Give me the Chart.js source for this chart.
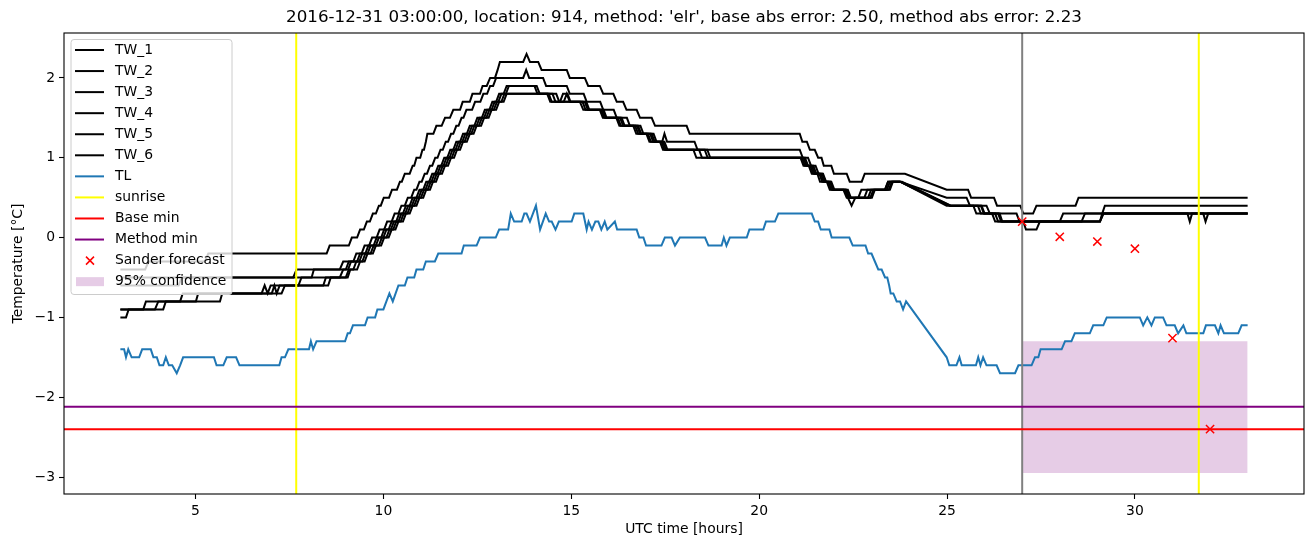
<!DOCTYPE html>
<html>
<head>
<meta charset="utf-8">
<script src="https://cdn.jsdelivr.net/npm/chart.js@4.4.1/dist/chart.umd.min.js"></script>
<style>
  html, body { margin: 0; padding: 0; background: #fff; }
  #wrap { width: 1313px; height: 547px; }
</style>
</head>
<body>
<div id="wrap"><canvas id="chart"></canvas></div>
<script>
// ---- data: [hour, temperature] vertices ----
const tw1 = [[3.0,-0.4],[3.66,-0.4],[3.75,-0.3],[5.25,-0.3],[5.34,-0.2],[8.49,-0.2],[8.57,-0.1],[9.08,-0.1],[9.16,0],[9.30,0],[9.38,0.1],[9.48,0.1],[9.56,0.2],[9.64,0.2],[9.72,0.3],[9.80,0.3],[9.88,0.4],[9.93,0.4],[10.01,0.5],[10.15,0.5],[10.23,0.6],[10.36,0.6],[10.44,0.7],[10.49,0.7],[10.57,0.8],[10.70,0.8],[10.78,0.9],[10.82,0.9],[10.88,1.0],[10.98,1.0],[11.04,1.1],[11.08,1.1],[11.13,1.2],[11.17,1.3],[11.33,1.3],[11.41,1.4],[11.55,1.4],[11.64,1.5],[11.77,1.5],[11.86,1.6],[12.04,1.6],[12.11,1.7],[12.30,1.7],[12.37,1.8],[12.57,1.8],[12.64,1.9],[12.75,1.9],[12.84,2.0],[12.97,2.0],[13.04,2.1],[13.10,2.2],[13.72,2.2],[13.81,2.3],[13.90,2.2],[14.12,2.2],[14.21,2.1],[14.88,2.1],[14.96,2.0],[15.36,2.0],[15.45,1.9],[15.76,1.9],[15.85,1.8],[16.12,1.8],[16.21,1.7],[16.38,1.7],[16.47,1.6],[16.74,1.6],[16.83,1.5],[17.14,1.5],[17.23,1.4],[18.07,1.4],[18.15,1.3],[21.08,1.3],[21.15,1.2],[21.27,1.2],[21.35,1.1],[21.48,1.1],[21.57,1.0],[21.66,1.0],[21.72,0.9],[21.92,0.9],[21.99,0.8],[22.33,0.8],[22.41,0.7],[22.73,0.7],[22.81,0.8],[23.88,0.8],[24.99,0.6],[25.56,0.6],[25.64,0.5],[26.25,0.5],[26.33,0.4],[26.95,0.4],[27.03,0.3],[27.29,0.3],[27.38,0.4],[28.42,0.4],[28.50,0.5],[33.0,0.5]];
const tw2 = [[3.0,-0.5],[7.60,-0.5],[7.69,-0.4],[8.84,-0.4],[8.93,-0.3],[9.20,-0.3],[9.28,-0.2],[9.42,-0.2],[9.50,-0.1],[9.62,-0.1],[9.70,0],[9.82,0],[9.90,0.1],[10.02,0.1],[10.10,0.2],[10.22,0.2],[10.30,0.3],[10.40,0.3],[10.48,0.4],[10.57,0.4],[10.65,0.5],[10.74,0.5],[10.82,0.6],[10.88,0.6],[10.96,0.7],[11.02,0.7],[11.10,0.8],[11.16,0.8],[11.24,0.9],[11.30,0.9],[11.38,1.0],[11.44,1.0],[11.52,1.1],[11.58,1.1],[11.66,1.2],[11.72,1.2],[11.80,1.3],[11.86,1.3],[11.94,1.4],[12.00,1.4],[12.08,1.5],[12.13,1.5],[12.21,1.6],[12.36,1.6],[12.44,1.7],[12.58,1.7],[12.66,1.8],[12.76,1.8],[12.84,1.9],[12.92,1.9],[13.00,2.0],[13.72,2.0],[13.80,2.1],[13.88,2.0],[14.25,2.0],[14.33,1.9],[14.88,1.9],[14.96,1.8],[15.33,1.8],[15.41,1.7],[15.77,1.7],[15.85,1.6],[16.13,1.6],[16.21,1.5],[16.48,1.5],[16.56,1.4],[16.84,1.4],[16.92,1.3],[17.19,1.3],[17.27,1.2],[17.42,1.2],[17.48,1.3],[17.55,1.2],[18.28,1.2],[18.36,1.1],[21.08,1.1],[21.16,1.0],[21.30,1.0],[21.38,0.9],[21.50,0.9],[21.58,0.8],[21.70,0.8],[21.78,0.7],[21.90,0.7],[21.98,0.6],[22.30,0.6],[22.37,0.5],[22.80,0.5],[22.88,0.6],[23.35,0.6],[23.43,0.7],[23.75,0.7],[24.99,0.4],[25.82,0.4],[25.90,0.3],[26.40,0.3],[26.47,0.2],[29.07,0.2],[29.13,0.3],[29.20,0.4],[33.0,0.4]];
const tw3 = [[3.0,-0.6],[4.55,-0.6],[4.63,-0.5],[8.09,-0.5],[8.15,-0.4],[9.0,-0.4],[9.08,-0.3],[9.30,-0.3],[9.38,-0.2],[9.52,-0.2],[9.60,-0.1],[9.74,-0.1],[9.82,0],[9.94,0],[10.02,0.1],[10.14,0.1],[10.22,0.2],[10.34,0.2],[10.42,0.3],[10.52,0.3],[10.60,0.4],[10.70,0.4],[10.78,0.5],[10.88,0.5],[10.96,0.6],[11.06,0.6],[11.14,0.7],[11.22,0.7],[11.30,0.8],[11.38,0.8],[11.46,0.9],[11.54,0.9],[11.62,1.0],[11.70,1.0],[11.78,1.1],[11.86,1.1],[11.94,1.2],[12.04,1.2],[12.12,1.3],[12.22,1.3],[12.30,1.4],[12.42,1.4],[12.50,1.5],[12.62,1.5],[12.70,1.6],[12.82,1.6],[12.90,1.7],[13.00,1.7],[13.08,1.8],[13.20,1.8],[13.28,1.9],[14.08,1.9],[14.16,1.8],[14.40,1.8],[14.48,1.7],[15.23,1.7],[15.32,1.6],[15.76,1.6],[15.84,1.5],[16.20,1.5],[16.28,1.4],[16.65,1.4],[16.73,1.3],[17.00,1.3],[17.08,1.2],[17.36,1.2],[17.44,1.1],[18.25,1.1],[18.33,1.0],[21.10,1.0],[21.18,0.9],[21.32,0.9],[21.40,0.8],[21.55,0.8],[21.62,0.7],[21.80,0.7],[21.88,0.6],[22.24,0.6],[22.33,0.5],[22.90,0.5],[22.98,0.6],[23.40,0.6],[23.48,0.7],[23.75,0.7],[24.99,0.5],[25.52,0.5],[25.61,0.4],[25.92,0.4],[26.0,0.3],[26.20,0.3],[26.28,0.2],[28.0,0.2],[28.09,0.3],[31.40,0.3],[31.46,0.2],[31.52,0.3],[33.0,0.3]];
const tw4 = [[3.0,-0.9],[3.61,-0.9],[3.68,-0.8],[4.59,-0.8],[4.66,-0.7],[6.76,-0.7],[6.84,-0.6],[6.92,-0.7],[7.00,-0.6],[7.74,-0.6],[7.82,-0.5],[8.84,-0.5],[8.93,-0.4],[9.06,-0.4],[9.14,-0.3],[9.36,-0.3],[9.44,-0.2],[9.58,-0.2],[9.66,-0.1],[9.80,-0.1],[9.88,0],[10.00,0],[10.08,0.1],[10.20,0.1],[10.28,0.2],[10.40,0.2],[10.48,0.3],[10.58,0.3],[10.66,0.4],[10.76,0.4],[10.84,0.5],[10.94,0.5],[11.02,0.6],[11.12,0.6],[11.20,0.7],[11.28,0.7],[11.36,0.8],[11.44,0.8],[11.52,0.9],[11.60,0.9],[11.68,1.0],[11.76,1.0],[11.84,1.1],[11.92,1.1],[12.00,1.2],[12.10,1.2],[12.18,1.3],[12.28,1.3],[12.36,1.4],[12.48,1.4],[12.56,1.5],[12.68,1.5],[12.76,1.6],[12.88,1.6],[12.96,1.7],[13.06,1.7],[13.14,1.8],[13.26,1.8],[13.34,1.9],[14.02,1.9],[14.10,1.8],[14.60,1.8],[14.68,1.7],[15.30,1.7],[15.38,1.6],[15.80,1.6],[15.88,1.5],[16.24,1.5],[16.32,1.4],[16.70,1.4],[16.78,1.3],[17.04,1.3],[17.12,1.2],[17.40,1.2],[17.48,1.1],[18.40,1.1],[18.48,1.0],[21.14,1.0],[21.22,0.9],[21.36,0.9],[21.44,0.8],[21.60,0.8],[21.68,0.7],[21.84,0.7],[21.92,0.6],[22.28,0.6],[22.36,0.5],[22.46,0.4],[22.56,0.5],[22.64,0.5],[22.72,0.6],[23.35,0.6],[23.43,0.7],[23.75,0.7],[25.08,0.4],[25.70,0.4],[25.78,0.3],[26.36,0.3],[26.44,0.2],[27.03,0.2],[27.10,0.1],[27.38,0.1],[27.47,0.2],[28.58,0.2],[28.67,0.3],[31.82,0.3],[31.88,0.2],[31.95,0.3],[33.0,0.3]];
const tw5 = [[3.0,-1.0],[3.15,-1.0],[3.22,-0.9],[3.92,-0.9],[4.01,-0.8],[5.01,-0.8],[5.07,-0.7],[7.03,-0.7],[7.10,-0.6],[7.16,-0.7],[7.24,-0.6],[8.40,-0.6],[8.47,-0.5],[9.00,-0.5],[9.08,-0.4],[9.20,-0.4],[9.28,-0.3],[9.44,-0.3],[9.52,-0.2],[9.66,-0.2],[9.74,-0.1],[9.88,-0.1],[9.96,0],[10.08,0],[10.16,0.1],[10.26,0.1],[10.34,0.2],[10.46,0.2],[10.54,0.3],[10.64,0.3],[10.72,0.4],[10.82,0.4],[10.90,0.5],[11.00,0.5],[11.08,0.6],[11.18,0.6],[11.26,0.7],[11.34,0.7],[11.42,0.8],[11.50,0.8],[11.58,0.9],[11.66,0.9],[11.74,1.0],[11.82,1.0],[11.90,1.1],[11.98,1.1],[12.06,1.2],[12.16,1.2],[12.24,1.3],[12.34,1.3],[12.42,1.4],[12.54,1.4],[12.62,1.5],[12.74,1.5],[12.82,1.6],[12.94,1.6],[13.02,1.7],[13.14,1.7],[13.22,1.8],[14.50,1.8],[14.58,1.7],[14.70,1.7],[14.78,1.8],[14.90,1.8],[14.98,1.7],[15.36,1.7],[15.44,1.6],[15.84,1.6],[15.92,1.5],[16.30,1.5],[16.38,1.4],[16.75,1.4],[16.83,1.3],[17.10,1.3],[17.18,1.2],[17.44,1.2],[17.52,1.1],[18.55,1.1],[18.63,1.0],[21.18,1.0],[21.26,0.9],[21.40,0.9],[21.48,0.8],[21.64,0.8],[21.72,0.7],[21.88,0.7],[21.96,0.6],[22.32,0.6],[22.40,0.5],[22.96,0.5],[23.04,0.6],[23.45,0.6],[23.53,0.7],[23.75,0.7],[25.08,0.4],[25.90,0.4],[25.98,0.3],[26.85,0.3],[26.93,0.2],[29.07,0.2],[29.16,0.3],[33.0,0.3]];
const tw6 = [[3.0,-0.9],[4.14,-0.9],[4.21,-0.8],[5.65,-0.8],[5.71,-0.7],[7.29,-0.7],[7.38,-0.6],[8.53,-0.6],[8.60,-0.5],[9.05,-0.5],[9.12,-0.4],[9.30,-0.4],[9.38,-0.3],[9.50,-0.3],[9.58,-0.2],[9.72,-0.2],[9.80,-0.1],[9.94,-0.1],[10.02,0],[10.14,0],[10.22,0.1],[10.32,0.1],[10.40,0.2],[10.52,0.2],[10.60,0.3],[10.70,0.3],[10.78,0.4],[10.88,0.4],[10.96,0.5],[11.06,0.5],[11.14,0.6],[11.24,0.6],[11.32,0.7],[11.40,0.7],[11.48,0.8],[11.56,0.8],[11.64,0.9],[11.72,0.9],[11.80,1.0],[11.88,1.0],[11.96,1.1],[12.04,1.1],[12.12,1.2],[12.22,1.2],[12.30,1.3],[12.40,1.3],[12.48,1.4],[12.60,1.4],[12.68,1.5],[12.80,1.5],[12.88,1.6],[13.00,1.6],[13.08,1.7],[13.20,1.7],[13.28,1.8],[14.36,1.8],[14.44,1.7],[14.80,1.7],[14.88,1.8],[14.96,1.7],[15.40,1.7],[15.48,1.6],[15.86,1.6],[15.94,1.5],[16.34,1.5],[16.42,1.4],[16.78,1.4],[16.86,1.3],[17.14,1.3],[17.22,1.2],[17.48,1.2],[17.56,1.1],[18.62,1.1],[18.70,1.0],[21.22,1.0],[21.30,0.9],[21.44,0.9],[21.52,0.8],[21.68,0.8],[21.76,0.7],[21.92,0.7],[22.00,0.6],[22.36,0.6],[22.44,0.5],[23.00,0.5],[23.08,0.6],[23.48,0.6],[23.56,0.7],[23.80,0.7],[25.10,0.4],[26.05,0.4],[26.14,0.3],[26.28,0.3],[26.36,0.2],[29.07,0.2],[29.16,0.3],[33.0,0.3]];
const tl = [[3.0,-1.4],[3.10,-1.4],[3.15,-1.5],[3.21,-1.4],[3.30,-1.5],[3.50,-1.5],[3.58,-1.4],[3.81,-1.4],[3.88,-1.5],[3.97,-1.5],[4.04,-1.6],[4.14,-1.6],[4.21,-1.5],[4.29,-1.6],[4.38,-1.6],[4.50,-1.7],[4.59,-1.6],[4.67,-1.5],[5.49,-1.5],[5.56,-1.6],[5.74,-1.6],[5.83,-1.5],[6.08,-1.5],[6.17,-1.6],[7.23,-1.6],[7.29,-1.5],[7.38,-1.5],[7.47,-1.4],[8.02,-1.4],[8.07,-1.3],[8.13,-1.4],[8.22,-1.3],[8.98,-1.3],[9.05,-1.2],[9.11,-1.2],[9.19,-1.1],[9.51,-1.1],[9.58,-1.0],[9.78,-1.0],[9.84,-0.9],[10.0,-0.9],[10.08,-0.8],[10.16,-0.7],[10.25,-0.8],[10.40,-0.6],[10.57,-0.6],[10.64,-0.5],[10.82,-0.5],[10.88,-0.4],[11.06,-0.4],[11.13,-0.3],[11.37,-0.3],[11.46,-0.2],[12.08,-0.2],[12.14,-0.1],[12.48,-0.1],[12.57,0],[12.99,0],[13.08,0.1],[13.32,0.1],[13.39,0.3],[13.48,0.2],[13.68,0.2],[13.75,0.3],[13.81,0.3],[13.90,0.2],[14.06,0.4],[14.17,0.1],[14.32,0.3],[14.41,0.2],[14.48,0.2],[14.58,0.1],[14.67,0.2],[15.01,0.2],[15.08,0.3],[15.32,0.3],[15.41,0.1],[15.46,0.2],[15.55,0.1],[15.64,0.2],[15.72,0.2],[15.80,0.1],[15.89,0.2],[15.96,0.1],[16.16,0.2],[16.22,0.1],[16.74,0.1],[16.81,0],[16.92,0],[16.99,-0.1],[17.40,-0.1],[17.49,0],[17.67,0],[17.76,-0.1],[17.89,0],[18.56,0],[18.65,-0.1],[19.00,-0.1],[19.06,0],[19.13,-0.1],[19.22,0],[19.67,0],[19.74,0.1],[20.11,0.1],[20.18,0.2],[20.42,0.2],[20.51,0.3],[21.40,0.3],[21.48,0.2],[21.57,0.2],[21.64,0.1],[21.87,0.1],[21.93,0],[22.40,0],[22.49,-0.1],[22.83,-0.1],[22.90,-0.2],[22.99,-0.2],[23.08,-0.3],[23.17,-0.4],[23.26,-0.4],[23.35,-0.5],[23.41,-0.5],[23.46,-0.6],[23.50,-0.7],[23.57,-0.7],[23.66,-0.8],[23.75,-0.8],[23.83,-0.9],[23.91,-0.8],[24.99,-1.5],[25.06,-1.6],[25.25,-1.6],[25.33,-1.5],[25.39,-1.6],[25.77,-1.6],[25.83,-1.5],[25.89,-1.6],[25.96,-1.5],[26.05,-1.6],[26.32,-1.6],[26.41,-1.7],[26.81,-1.7],[26.90,-1.6],[27.25,-1.6],[27.34,-1.5],[27.43,-1.5],[27.49,-1.4],[28.05,-1.4],[28.14,-1.3],[28.31,-1.3],[28.40,-1.2],[28.80,-1.2],[28.89,-1.1],[29.16,-1.1],[29.25,-1.0],[30.13,-1.0],[30.22,-1.1],[30.33,-1.0],[30.44,-1.1],[30.53,-1.0],[30.75,-1.0],[30.84,-1.1],[31.06,-1.1],[31.15,-1.2],[31.29,-1.1],[31.37,-1.2],[31.82,-1.2],[31.89,-1.1],[32.13,-1.1],[32.22,-1.2],[32.28,-1.1],[32.37,-1.2],[32.75,-1.2],[32.84,-1.1],[33.0,-1.1]];

const sanderHours = [27, 28, 29, 30, 31, 32];
const sanderTemps = [0.2, 0.01, -0.05, -0.14, -1.26, -2.4];
const sunriseHours = [7.68, 31.70];
const nowHour = 27.0;
const baseMin = -2.4;
const methodMin = -2.12;
const bandHours = [27.0, 33.0];
const bandHigh = -1.3;
const bandLow = -2.95;

const xTicks = [5, 10, 15, 20, 25, 30];
const yTicks = [-3, -2, -1, 0, 1, 2];
const xRange = [1.5, 34.5];
const yRange = [-3.2125, 2.5625];

const titleText = "2016-12-31 03:00:00, location: 914, method: 'elr', base abs error: 2.50, method abs error: 2.23";
const FONT = '"DejaVu Sans", sans-serif';
const LW = 2.0;

const toXY = arr => arr.map(p => ({ x: p[0], y: p[1] }));
function lineSet(label, pts, color, width, order) {
  return { label, data: toXY(pts), borderColor: color, borderWidth: width,
           pointRadius: 0, fill: false, tension: 0, order };
}

const datasets = [];
datasets.push({
  label: 'Sander forecast',
  data: sanderHours.map((h, i) => ({ x: h, y: sanderTemps[i] })),
  showLine: false, pointStyle: 'crossRot', pointRadius: 5.8,
  pointBorderColor: '#ff0000', pointBorderWidth: 1.5, borderColor: '#ff0000', order: 0
});
datasets.push(lineSet('Method min', [[xRange[0], methodMin], [xRange[1], methodMin]], '#800080', LW, 1));
datasets.push(lineSet('Base min', [[xRange[0], baseMin], [xRange[1], baseMin]], '#ff0000', LW, 2));
sunriseHours.forEach(h => datasets.push(lineSet('sunrise', [[h, yRange[0]], [h, yRange[1]]], '#ffff00', LW, 3)));
datasets.push(lineSet('TL', tl, '#1f77b4', LW, 4));
[tw1, tw2, tw3, tw4, tw5, tw6].forEach((s, i) => datasets.push(lineSet('TW_' + (i + 1), s, '#000000', LW, 5)));
datasets.push(lineSet('now', [[nowHour, yRange[0]], [nowHour, yRange[1]]], '#808080', LW, 3));
datasets.push({
  label: '95% confidence',
  data: bandHours.map(h => ({ x: h, y: bandHigh })),
  borderWidth: 0, pointRadius: 0, tension: 0,
  backgroundColor: 'rgba(128,0,128,0.2)',
  fill: { target: { value: bandLow } }, order: 9
});

const legendItems = [
  ['TW_1', 'line', '#000000'], ['TW_2', 'line', '#000000'], ['TW_3', 'line', '#000000'],
  ['TW_4', 'line', '#000000'], ['TW_5', 'line', '#000000'], ['TW_6', 'line', '#000000'],
  ['TL', 'line', '#1f77b4'], ['sunrise', 'line', '#ffff00'], ['Base min', 'line', '#ff0000'],
  ['Method min', 'line', '#800080'], ['Sander forecast', 'x', '#ff0000'],
  ['95% confidence', 'patch', 'rgba(128,0,128,0.2)']
];

const decor = {
  id: 'decor',
  afterDraw(chart) {
    const { ctx, chartArea: a } = chart;
    ctx.save();
    // frame
    ctx.strokeStyle = '#000';
    ctx.lineWidth = 1.1;
    ctx.strokeRect(a.left, a.top, a.right - a.left, a.bottom - a.top);
    // title and axis labels
    ctx.fillStyle = '#000';
    ctx.textAlign = 'center';
    ctx.textBaseline = 'middle';
    ctx.font = '16.7px ' + FONT;
    ctx.fillText(titleText, (a.left + a.right) / 2, 18);
    ctx.font = '13.9px ' + FONT;
    ctx.fillText('UTC time [hours]', (a.left + a.right) / 2, 529);
    ctx.save();
    ctx.translate(18, (a.top + a.bottom) / 2);
    ctx.rotate(-Math.PI / 2);
    ctx.fillText('Temperature [\u00b0C]', 0, 0);
    ctx.restore();
    // legend
    const bx = 71, by = 39.5, bw = 161, bh = 255;
    ctx.beginPath();
    ctx.roundRect(bx, by, bw, bh, 3);
    ctx.fillStyle = 'rgba(255,255,255,0.8)';
    ctx.fill();
    ctx.strokeStyle = '#cccccc';
    ctx.lineWidth = 1;
    ctx.stroke();
    ctx.textAlign = 'left';
    legendItems.forEach((it, i) => {
      const y = 50 + i * 21.06;
      const [label, kind, color] = it;
      if (kind === 'line') {
        ctx.strokeStyle = color;
        ctx.lineWidth = LW;
        ctx.beginPath();
        ctx.moveTo(75, y);
        ctx.lineTo(104, y);
        ctx.stroke();
      } else if (kind === 'x') {
        ctx.strokeStyle = color;
        ctx.lineWidth = 1.5;
        ctx.beginPath();
        ctx.moveTo(86, y - 4); ctx.lineTo(94, y + 4);
        ctx.moveTo(94, y - 4); ctx.lineTo(86, y + 4);
        ctx.stroke();
      } else {
        ctx.fillStyle = color;
        ctx.fillRect(76, y - 4.5, 28, 9);
      }
      ctx.fillStyle = '#000';
      ctx.fillText(label, 115, y);
    });
    ctx.restore();
  }
};

new Chart(document.getElementById('chart').getContext('2d'), {
  type: 'line',
  data: { datasets },
  options: {
    responsive: true,
    maintainAspectRatio: false,
    animation: false,
    layout: { padding: { top: 33, right: 9, left: 0, bottom: 0 } },
    plugins: { legend: { display: false }, tooltip: { enabled: false }, title: { display: false } },
    scales: {
      x: {
        type: 'linear', min: xRange[0], max: xRange[1],
        afterBuildTicks: s => { s.ticks = xTicks.map(v => ({ value: v })); },
        afterFit: s => { s.height = 53; },
        grid: { drawOnChartArea: false, drawTicks: true, tickLength: 5, tickColor: '#000', tickWidth: 1.1 },
        border: { display: false },
        ticks: { color: '#000', font: { family: FONT, size: 13.9 }, padding: 4, maxRotation: 0,
                 callback: v => String(v) }
      },
      y: {
        type: 'linear', min: yRange[0], max: yRange[1],
        afterBuildTicks: s => { s.ticks = yTicks.map(v => ({ value: v })); },
        afterFit: s => { s.width = 64; },
        grid: { drawOnChartArea: false, drawTicks: true, tickLength: 5, tickColor: '#000', tickWidth: 1.1 },
        border: { display: false },
        ticks: { color: '#000', font: { family: FONT, size: 13.9 }, padding: 4,
                 callback: v => String(v).replace('-', '\u2212') }
      }
    }
  },
  plugins: [decor]
});
</script>
</body>
</html>
